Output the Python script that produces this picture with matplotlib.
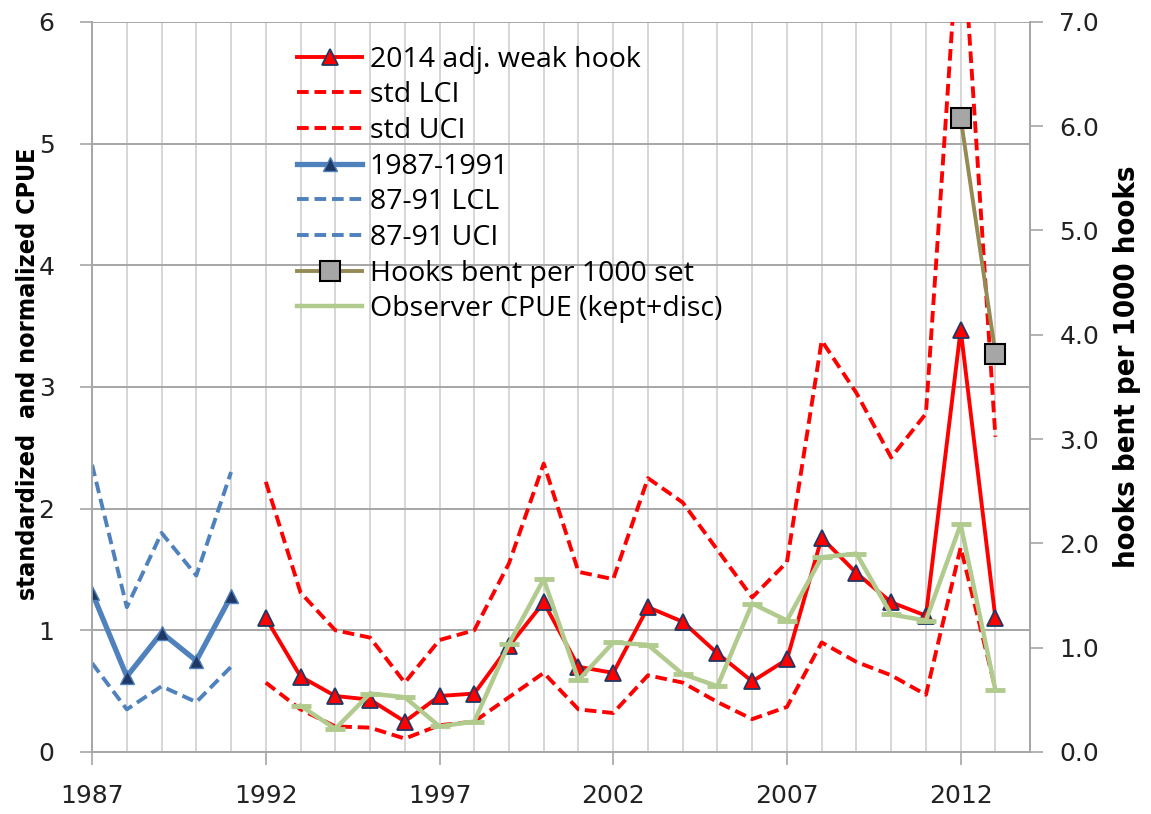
import numpy as np
import matplotlib
matplotlib.use("Agg")
import matplotlib.pyplot as plt
from matplotlib.lines import Line2D
from matplotlib.ticker import FormatStrFormatter

# ....... Data ........

early_years = [1987, 1988, 1989, 1990, 1991]
early_cpue = [1.31, 0.62, 0.98, 0.75, 1.28]
early_lcl = [0.73, 0.35, 0.54, 0.41, 0.70]
early_uci = [2.36, 1.19, 1.80, 1.45, 2.30]

years = list(range(1992, 2014))
adj_weak_hook = [1.10, 0.62, 0.46, 0.43, 0.25, 0.46, 0.48, 0.87, 1.23, 0.70, 0.65,
                 1.19, 1.07, 0.81, 0.58, 0.76, 1.76, 1.47, 1.23, 1.12, 3.47, 1.10]
std_lci = [0.57, 0.35, 0.21, 0.20, 0.11, 0.22, 0.25, 0.45, 0.65, 0.35, 0.32,
           0.63, 0.57, 0.41, 0.27, 0.37, 0.90, 0.74, 0.63, 0.47, 1.68, 0.52]
std_uci = [2.22, 1.31, 1.00, 0.94, 0.57, 0.92, 1.00, 1.55, 2.37, 1.48, 1.42,
           2.25, 2.05, 1.66, 1.27, 1.56, 3.38, 2.95, 2.42, 2.78, 7.00, 2.59]

obs_years = list(range(1993, 2014))
observer_cpue = [0.38, 0.19, 0.48, 0.45, 0.21, 0.25, 0.89, 1.42, 0.59, 0.90,
                 0.88, 0.64, 0.54, 1.22, 1.08, 1.60, 1.63, 1.13, 1.08, 1.87, 0.51]

hook_years = [2012, 2013]
hooks_bent = [6.08, 3.82]

# ....... Styles ........
RED = '#FF0000'
BLUE = '#4F81BD'
NAVY = '#1F3864'
GREEN = '#B1CB8E'
OLIVE = '#948A54'
dash = (0, (3, 1.5))

plt.rcParams['font.family'] = ['DejaVu Sans']

fig = plt.figure(figsize=(11.51, 8.14), dpi=100)
ax = fig.add_axes([0.080, 0.0762, 0.815, 0.897])
ax2 = ax.twinx()

# red series
l1, = ax.plot(years, adj_weak_hook, color=RED, lw=2.8, marker='^', ms=11,
              mfc=RED, mec=NAVY, mew=1.3, zorder=4, label='2014 adj. weak hook')
l2, = ax.plot(years, std_lci, color=RED, lw=2.8, ls=dash, zorder=3, label='std LCI')
l3, = ax.plot(years, std_uci, color=RED, lw=2.8, ls=dash, zorder=3, label='std UCI')

# 1987-1991 series
l4, = ax.plot(early_years, early_cpue, color=BLUE, lw=3.8, marker='^', ms=10,
              mfc=NAVY, mec=BLUE, mew=1, zorder=4, label='1987-1991')
l5, = ax.plot(early_years, early_lcl, color=BLUE, lw=2.8, ls=dash, zorder=3, label='87-91 LCL')
l6, = ax.plot(early_years, early_uci, color=BLUE, lw=2.8, ls=dash, zorder=3, label='87-91 UCI')

# observer CPUE
ax.plot(obs_years, observer_cpue, color=GREEN, lw=3.2, marker='_', ms=15,
        mew=3.5, zorder=5)
l8 = Line2D([], [], color=GREEN, lw=3.2, label='Observer CPUE (kept+disc)')

# hooks bent on right axis
l7, = ax2.plot(hook_years, hooks_bent, color=OLIVE, lw=2.8, marker='s', ms=14,
               mfc='#A6A6A6', mec='black', mew=1.5, zorder=6,
               label='Hooks bent per 1000 set')

# ....... Axes settings ........
ax.set_xlim(1987, 2014)
ax.set_ylim(0, 6)
ax2.set_ylim(0, 7)

ax.set_xticks(range(1987, 2013, 5))
ax.set_xticks(range(1987, 2015), minor=True)
ax.set_yticks(range(0, 7))
ax2.set_yticks(range(0, 8))
ax2.yaxis.set_major_formatter(FormatStrFormatter('%.1f'))

ax.grid(True, which='minor', axis='x', color='#D0D0D0', lw=1.2)
ax.grid(True, which='major', axis='x', color='#D0D0D0', lw=1.2)
ax.grid(True, which='major', axis='y', color='#A6A6A6', lw=1.4)
ax.set_axisbelow(True)

for a in (ax, ax2):
    a.spines['top'].set_visible(False)
    for s in ('left', 'right', 'bottom'):
        a.spines[s].set_color('#A6A6A6')
        a.spines[s].set_linewidth(1.2)

ax.tick_params(axis='both', which='major', direction='out', length=9, width=1.2,
               color='#A6A6A6', labelsize=18, labelcolor='#222222')
ax.tick_params(axis='x', which='minor', length=0)
ax2.tick_params(axis='y', direction='out', length=9, width=1.2,
                color='#A6A6A6', labelsize=18, labelcolor='#222222', pad=12)
ax.tick_params(axis='y', pad=18)
ax.tick_params(axis='x', pad=14)

ax.set_ylabel('standardized  and normalized CPUE', fontsize=18, fontweight='bold',
              fontstretch='condensed', family='DejaVu Sans')
ax2.set_ylabel('hooks bent per 1000 hooks', fontsize=21, fontweight='bold',
               fontstretch='condensed', family='DejaVu Sans')
ax.yaxis.set_label_coords(-0.055, 0.518)
ax2.yaxis.set_label_coords(1.088, 0.527)

handles = [l1, l2, l3, l4, l5, l6, l7, l8]
leg = ax2.legend(handles=handles, labels=[h.get_label() for h in handles],
                 loc='upper left', bbox_to_anchor=(0.258, 0.944),
                 bbox_transform=fig.transFigure, frameon=False,
                 borderpad=0, borderaxespad=0, handlelength=2.3,
                 handletextpad=0.25, labelspacing=0.27,
                 prop={'family': ['Open Sans', 'DejaVu Sans'], 'size': 20.5})

fig.savefig('out.png', dpi=100)
